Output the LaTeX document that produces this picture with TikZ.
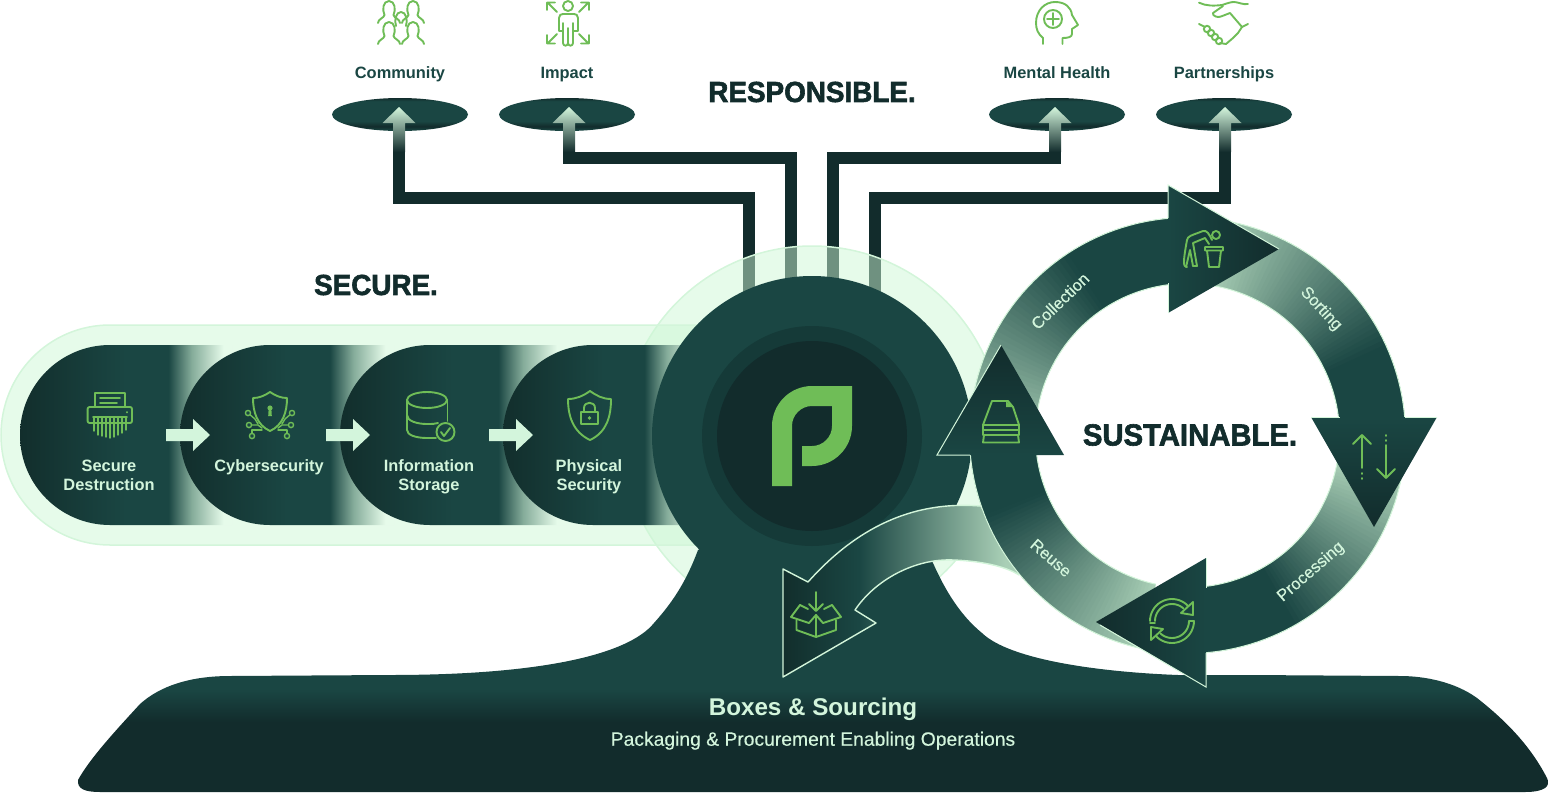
\documentclass[tikz,border=0pt]{standalone}
\usepackage{fontspec}
\setmainfont{Liberation Sans}
\newfontfamily\heavyfont[FakeBold=2,FakeStretch=.96]{Liberation Sans Bold}
\newfontfamily\midfont[FakeBold=.35]{Liberation Sans}
\usetikzlibrary{arrows.meta,positioning,shapes.geometric}

\definecolor{hubteal}{HTML}{1A4643}
\definecolor{inkdark}{HTML}{122C2C}
\definecolor{hubmid}{HTML}{153A38}
\definecolor{stagedark}{HTML}{122E2C}
\definecolor{haze}{HTML}{CDF7D5}
\definecolor{hazeline}{HTML}{D3F5DA}
\definecolor{hazefill}{HTML}{E6FBEA}
\definecolor{mint}{HTML}{D3F5DC}
\definecolor{palearc}{HTML}{A9CFB6}
\definecolor{fadehalf}{HTML}{85AC9A}
\definecolor{leafgreen}{HTML}{6FBD57}

\pgfdeclarehorizontalshading{stageshade}{100bp}{color(0bp)=(stagedark); color(25bp)=(stagedark); color(50bp)=(hubteal); color(60bp)=(hubteal); color(65.5bp)=(fadehalf); color(73bp)=(hazefill); color(100bp)=(hazefill)}
\pgfdeclareverticalshading{baseshade}{100bp}{color(0bp)=(inkdark); color(37bp)=(inkdark); color(42.6bp)=(hubteal); color(100bp)=(hubteal)}
\pgfdeclareverticalshading{discshade}{100bp}{color(0bp)=(hubteal); color(26bp)=(hubteal); color(32bp)=(inkdark); color(40bp)=(hubteal); color(70bp)=(hubteal); color(75bp)=(inkdark); color(100bp)=(inkdark)}
\pgfdeclarehorizontalshading{branchshade}{100bp}{color(0bp)=(stagedark); color(25bp)=(stagedark); color(41bp)=(hubteal); color(72bp)=(palearc); color(100bp)=(palearc)}

\tikzset{
	iconline/.style={draw=leafgreen,line width=1.9pt,line cap=round,line join=round},
	bandrim/.style={draw=hazeline,line width=1pt},
	pipeline/.style={draw=inkdark,line width=12pt},
	darklabel/.style={text=hubteal,font=\bfseries\fontsize{16.4}{19}\selectfont,inner sep=0pt,anchor=base},
	stagelabel/.style={text=mint,align=center,font=\bfseries\fontsize{16.4}{19}\selectfont,inner sep=0pt},
	ringlabel/.style={text=mint,font=\midfont\fontsize{16.6}{19}\selectfont,inner sep=0pt},
	heading/.style={text=inkdark,font=\heavyfont\fontsize{29}{32}\selectfont,inner sep=0pt},
	disc/.style={ellipse,minimum width=136pt,minimum height=33pt,inner sep=0pt,outer sep=0pt,shade,shading=discshade},
	hubdisc/.style={circle,inner sep=0pt,outer sep=0pt}
}

\newcommand{\stagepath}[2]{(#2,345) -- ({#1+90},345) .. controls ({#1+40.3},345) and (#1,385.3) .. (#1,435) .. controls (#1,484.7) and ({#1+40.3},525) .. ({#1+90},525) -- (#2,525) -- cycle}
\newcommand{\bust}[2]{\draw[iconline,shift={(#1,#2)}] (-11,16) .. controls (-11,12) and (-5,11) .. (-4.5,8) .. controls (-7,3) and (-6,-6) .. (0,-6) .. controls (6,-6) and (7,3) .. (4.5,8) .. controls (5,11) and (11,12) .. (11,16);}
% one band of the ring: from, to, angle where the fade ends
\newcommand{\ringband}[3]{
	\foreach \i in {0,...,59}{
		\pgfmathsetmacro{\aa}{#1+(#2-#1)*\i/60}
		\pgfmathsetmacro{\ab}{#1+(#2-#1)*(\i+1.5)/60}
		\pgfmathsetmacro{\mixv}{max(0,min(100,100*(\aa-#1)/(#3-#1)))}
		\fill[hubteal!\mixv!palearc] plot[domain=\aa:\ab,samples=4,variable=\t] ({1187.5+218*cos(\t)},{435.5+218*sin(\t)}) -- plot[domain=\ab:\aa,samples=4,variable=\t] ({1187.5+152*cos(\t)},{435.5+152*sin(\t)}) -- cycle;
	}
	\draw[bandrim] plot[domain=#1:#2,samples=40,variable=\t] ({1187.5+218*cos(\t)},{435.5+218*sin(\t)});
	\draw[bandrim] plot[domain=#1:#2,samples=40,variable=\t] ({1187.5+152*cos(\t)},{435.5+152*sin(\t)});
}

\begin{document}
\begin{tikzpicture}[x=1pt,y=-1pt]
	\useasboundingbox (0,0) rectangle (1548,793);

	% pipes up to the four discs
	\foreach \nm/\xd/\xs/\xt/\yr in {Community/400/399/749/198,Impact/567/569/791/158,MentalHealth/1057/1055/833/158,Partnerships/1224/1225/875/198}{
		\coordinate (tap\nm) at (\xt,300);
		\coordinate (stem\nm) at (\xs,150);
		\draw[pipeline] (tap\nm) -- (\xt,\yr) -| (stem\nm);
		\node[disc] (disc\nm) at (\xd,114.5) {};
		\shade[top color=mint,bottom color=inkdark,shift={(stem\nm)}] (-6,2) -- (-6,-27) -- (-16.5,-27) -- (0,-43) -- (16.5,-27) -- (6,-27) -- (6,2) -- cycle;
	}

	\node[hubdisc,minimum size=380pt,fill=haze,fill opacity=.5,draw=hazeline,draw opacity=1,line width=1.5pt] (halo) at (812,436) {};
	\path[fill=haze,fill opacity=.5,draw=hazeline,draw opacity=1,line width=1.5pt] (800,325) -- (110,325) .. controls (49.25,325) and (1,374.25) .. (1,435) .. controls (1,495.75) and (49.25,545) .. (110,545) -- (800,545);

	\begin{scope}
		\shade[shading=stageshade] \stagepath{20}{232};
		\shade[shading=stageshade] \stagepath{180}{394};
		\shade[shading=stageshade] \stagepath{340}{566};
		\shade[shading=stageshade] \stagepath{503}{705};
	\end{scope}

	\foreach \xa in {166,326,489}{
		\fill[mint,shift={(\xa,435)}] (0,-6) -- (27,-6) -- (27,-16) -- (44,0) -- (27,16) -- (27,6) -- (0,6) -- cycle;
	}

	% base under the hub
	\shade[shading=baseshade] (698,550) .. controls (685,585) and (670,605) .. (654,623) .. controls (628,655) and (540,675) .. (390,675) -- (230,676) .. controls (190,676) and (160,686) .. (140,704) .. controls (118,728) and (90,758) .. (78,780) .. controls (77,789) and (85,792) .. (100,792) -- (1525,792) .. controls (1545,792) and (1551,786) .. (1547,778) .. controls (1530,745) and (1505,720) .. (1477,698) .. controls (1455,682) and (1425,676) .. (1400,676) -- (1250,675) -- (1178,675) .. controls (1100,672) and (1010,660) .. (982,633) .. controls (960,615) and (945,590) .. (933,563) -- (925,549) -- (812,500) -- cycle;

	\node[hubdisc,minimum size=320pt,fill=hubteal] (hub) at (812,436) {};
	\node[hubdisc,minimum size=220pt,fill=hubmid] (hubInner) at (hub) {};
	\node[hubdisc,minimum size=190pt,fill=inkdark] (hubCore) at (hub) {};
	\fill[leafgreen] (772,486) -- (772,426) .. controls (772,404) and (790,386) .. (812,386) -- (852,386) -- (852,426) .. controls (852,448) and (834,466) .. (812,466) -- (802,466) -- (802,446) -- (812,446) .. controls (823,446) and (832,437) .. (832,426) -- (832,406) -- (812,406) .. controls (801,406) and (792,415) .. (792,426) -- (792,486) -- cycle;

	% branch to the boxes
	\shade[shading=branchshade] (980,506) .. controls (905,500) and (850,535) .. (808,582) -- (783,569) -- (783,677) -- (876,623) -- (855,610) .. controls (875,580) and (915,558) .. (954,560) .. controls (980,561) and (1005,566) .. (1019,575) -- cycle;
	\draw[draw=hazeline,line width=1.4pt,line join=round] (980,506) .. controls (905,500) and (850,535) .. (808,582) -- (783,569) -- (783,677) -- (876,623) -- (855,610) .. controls (875,580) and (915,558) .. (954,560) .. controls (980,561) and (1005,566) .. (1019,575);

	% ring
	\ringband{178}{266}{236}
	\ringband{278}{358}{335}
	\ringband{10}{87}{60}
	\ringband{102}{176}{158}

	\shade[left color=hubteal,right color=inkdark] (1168,185) -- (1279,249) -- (1168,313) -- cycle;
	\draw[bandrim] (1168,218) -- (1168,185) -- (1279,249);
	\draw[bandrim] (1168,283) -- (1168,313);
	\shade[top color=hubteal,bottom color=inkdark] (1311,417) -- (1437,417) -- (1374,527) -- cycle;
	\draw[bandrim] (1311,417) -- (1340,417);
	\draw[bandrim] (1405,417) -- (1437,417);
	\shade[right color=hubteal,left color=inkdark] (1206,558) -- (1206,687) -- (1096,622) -- cycle;
	\draw[bandrim] (1206,558) -- (1206,588);
	\draw[bandrim] (1206,653) -- (1206,687) -- (1100,625);
	\shade[bottom color=hubteal,top color=inkdark] (1001,345) -- (1064,455) -- (937,455) -- cycle;
	\draw[bandrim] (1001,345) -- (937,455) -- (970,455);

	% icons of the ring
	\draw[iconline] (1187,267) .. controls (1183,267) and (1183,262) .. (1187,240) .. controls (1188,236) and (1190,236) .. (1203,231) .. controls (1207,230) and (1209,234) .. (1212,240);
	\draw[iconline] (1193,266) -- (1197,266) -- (1193,243) -- (1205,238) -- (1209,244);
	\draw[iconline] (1186,267) -- (1190,250) -- (1193,266);
	\draw[iconline] (1216,235) circle[radius=4pt];
	\draw[iconline] (1205,247) -- (1223,247) -- (1223,250.5) -- (1205,250.5) -- cycle (1207,250.5) -- (1209,267) -- (1219,267) -- (1221,250.5);

	\draw[iconline] (1353,444) -- (1362,435) -- (1371,444) (1362,435) -- (1362,468) (1362,473) -- (1362,474) (1362,478) -- (1362,479);
	\draw[iconline] (1377,469) -- (1386,478) -- (1395,469) (1386,478) -- (1386,445) (1386,435) -- (1386,436) (1386,440) -- (1386,441);

	\draw[iconline] plot[domain=180:318,samples=20,variable=\t] ({1172+22*cos(\t)},{621+22*sin(\t)});
	\draw[iconline] plot[domain=180:312,samples=20,variable=\t] ({1172+17*cos(\t)},{621+17*sin(\t)});
	\draw[iconline] plot[domain=0:138,samples=20,variable=\t] ({1172+22*cos(\t)},{621+22*sin(\t)});
	\draw[iconline] plot[domain=0:132,samples=20,variable=\t] ({1172+17*cos(\t)},{621+17*sin(\t)});
	\draw[iconline] (1193,602) -- (1193,615) -- (1181,613) -- cycle (1150,623) -- (1155,623) (1189,621) -- (1194,621);
	\draw[iconline] (1151,640) -- (1151,627) -- (1163,629) -- cycle;

	\draw[iconline] (983,425) -- (992,401) -- (1008,401) -- (1013,407) -- (1019,425);
	\fill[leafgreen] (1006,401) -- (1013,407) -- (1006,407) -- cycle;
	\draw[iconline] (983,425) -- (1019,425) -- (1019,430) -- (983,430) -- cycle;
	\draw[iconline] (983,430) -- (983,435) -- (1019,435) -- (1019,430);
	\draw[iconline] (984,435) -- (983,442.5) -- (1019,442.5) -- (1018,435);

	\draw[iconline] (816,592) -- (816,610) (809,604) -- (816,611) -- (823,604);
	\draw[iconline] (796.5,620) -- (796.5,630) -- (816,637) -- (836,630) -- (836,620) (816,615) -- (816,637);
	\draw[iconline] (800,605) -- (791,617) -- (809,623) -- (816,615) -- (823,623) -- (841,617) -- (832,605);
	\draw[iconline] (800,605) -- (808,609) (832,605) -- (824,609);

	% icons of the stages
	\draw[iconline,rounded corners=2pt] (87.6,407) rectangle (132,423);
	\draw[iconline] (95.4,407) -- (95.4,393) -- (125,393) -- (125,407) (100,398) -- (120,398) (100,403) -- (117,403);
	\draw[iconline] (93,417) -- (127,417) (127,412) -- (127,412.5);
	\foreach \xs/\ys in {94/431,98/435,102/436,106/437,110/438,114/437,118/435,122/433,126/430}{
		\draw[iconline,line width=1.4pt] (\xs,418) -- (\xs,\ys);
	}

	\draw[iconline] (270,392) .. controls (264,396) and (259,398) .. (253,398) .. controls (253,412) and (257,425) .. (270,431) .. controls (283,425) and (287,412) .. (287,398) .. controls (281,398) and (276,396) .. (270,392) -- cycle;
	\fill[leafgreen] (270,408) circle[radius=2.6pt] (268.7,408) -- (268.2,416) -- (271.8,416) -- (271.3,408) -- cycle;
	\foreach \xc/\yc/\xm/\ym/\xe/\ye in {248/413/255/419/258/424,249/425/258/425/262/428,252/436/252/430/262/430,292/413/285/419/282/424,291/425/282/425/278/428,287/436/287/430/278/430}{
		\draw[iconline,line width=1.4pt] (\xc,\yc) -- (\xm,\ym) -- (\xe,\ye);
		\draw[iconline,line width=1.4pt,fill=hubteal] (\xc,\yc) circle[radius=2.6pt];
	}

	\draw[iconline] (427,400) ellipse[x radius=20pt,y radius=8pt];
	\draw[iconline] (407,400) -- (407,430) .. controls (407,435) and (416,438) .. (427,438) -- (436,438);
	\draw[iconline] (407,415) .. controls (407,421) and (417,424) .. (427,424) .. controls (432,424) and (435,424) .. (438,423);
	\draw[iconline] (447.5,400) -- (447.5,421);
	\draw[iconline] (445.5,432) circle[radius=9pt];
	\draw[iconline] (441,432) -- (444,436) -- (450,428);

	\draw[iconline] (590,391) .. controls (583,396) and (576,399) .. (568,399) .. controls (568,416) and (573,432) .. (590,440) .. controls (607,432) and (611,416) .. (611,399) .. controls (603,399) and (597,396) .. (590,391) -- cycle;
	\draw[iconline] (581,412) rectangle (598,424);
	\draw[iconline] (584,412) -- (584,408) .. controls (584,401) and (595,401) .. (595,408) -- (595,412);
	\fill[leafgreen] (589.5,418) circle[radius=1.8pt];

	% icons over the discs
	\bust{389}{7}
	\bust{413}{7}
	\bust{389}{28}
	\bust{413}{28}
	\draw[iconline] (396,26) .. controls (394,20) and (396,12) .. (401,12) .. controls (406,12) and (408,20) .. (406,26);

	\draw[iconline] (568,6) circle[radius=5pt];
	\draw[iconline] (559,31) -- (559,18) .. controls (559,15) and (561,14) .. (563,14) -- (574,14) .. controls (576,14) and (578,15) .. (578,18) -- (578,31) -- (573,31) (559,31) -- (563,31);
	\draw[iconline] (563,23) -- (563,43) .. controls (563,46.5) and (568,46.5) .. (568,43) -- (568,28) (568,43) .. controls (568,46.5) and (573,46.5) .. (573,43) -- (573,23);
	\draw[iconline] (557,12) -- (548,3) (547,10) -- (547,2.5) -- (555,2.5);
	\draw[iconline] (579,12) -- (588,3) (589,10) -- (589,2.5) -- (581,2.5);
	\draw[iconline] (557,34) -- (548,43) (547,35) -- (547,43.5) -- (555,43.5);
	\draw[iconline] (579,34) -- (588,43) (589,35) -- (589,43.5) -- (581,43.5);

	\draw[iconline] (1043,44) -- (1043,38) .. controls (1038,34) and (1036,29) .. (1036,23) .. controls (1036,10) and (1045,2) .. (1055,2) .. controls (1065,2) and (1071,7) .. (1072,15) -- (1078,25) -- (1072,29) -- (1072,34) .. controls (1072,37) and (1068,38) .. (1062.5,38) -- (1062.5,44);
	\draw[iconline] (1053,19) circle[radius=9pt] (1053,13) -- (1053,25) (1047,19) -- (1059,19);

	\draw[iconline] (1199,2.7) .. controls (1206,6) and (1214,6) .. (1222,5) .. controls (1228,3) and (1231,2) .. (1234,2) .. controls (1238,2) and (1243,5) .. (1248,4);
	\draw[iconline] (1223,6) -- (1213,13) .. controls (1212,16) and (1218,18) .. (1221,16.5) -- (1230,13) -- (1242,27) -- (1248,24);
	\draw[iconline] (1242,27) -- (1238,33) -- (1233,38) -- (1226,44) -- (1220,43);
	\draw[iconline] (1199,24) -- (1205,27);
	\foreach \xk/\yk in {1207/29,1211/33,1215/37,1219/41}{
		\draw[iconline] (\xk,\yk) circle[radius=3.2pt];
	}

	% texts
	\node[darklabel] (labelCommunity) at (400,78) {Community};
	\node[darklabel] (labelImpact) at (567,78) {Impact};
	\node[darklabel] (labelMental) at (1057,78) {Mental Health};
	\node[darklabel] (labelPartner) at (1224,78) {Partnerships};

	\node[heading] (headResponsible) at (812,92) {RESPONSIBLE.};
	\node[heading] (headSecure) at (376,285) {SECURE.};
	\node[heading,font=\heavyfont\fontsize{30.5}{32}\selectfont] (headSustainable) at (1190,435) {SUSTAINABLE.};

	\node[stagelabel] (labelDestruction) at (109,475) {Secure\\Destruction};
	\node[stagelabel] (labelCyber) at (269,467) {Cybersecurity};
	\node[stagelabel] (labelStorage) at (429,476.5) {Information\\Storage};
	\node[stagelabel] (labelPhysical) at (589,476.5) {Physical\\Security};

	\node[ringlabel,rotate=44] (labelCollection) at (1060,301) {Collection};
	\node[ringlabel,rotate=-47] (labelSorting) at (1321,309) {Sorting};
	\node[ringlabel,rotate=41] (labelProcessing) at (1311,572) {Processing};
	\node[ringlabel,rotate=-41] (labelReuse) at (1051,558) {Reuse};

	\node[text=mint,font=\bfseries\fontsize{24.2}{30}\selectfont,inner sep=0pt] (labelBoxes) at (813,709) {Boxes \& Sourcing};
	\node[below=11pt of labelBoxes,text=mint,font=\midfont\fontsize{19.3}{22}\selectfont,inner sep=0pt] (labelPackaging) {Packaging \& Procurement Enabling Operations};
\end{tikzpicture}
\end{document}
